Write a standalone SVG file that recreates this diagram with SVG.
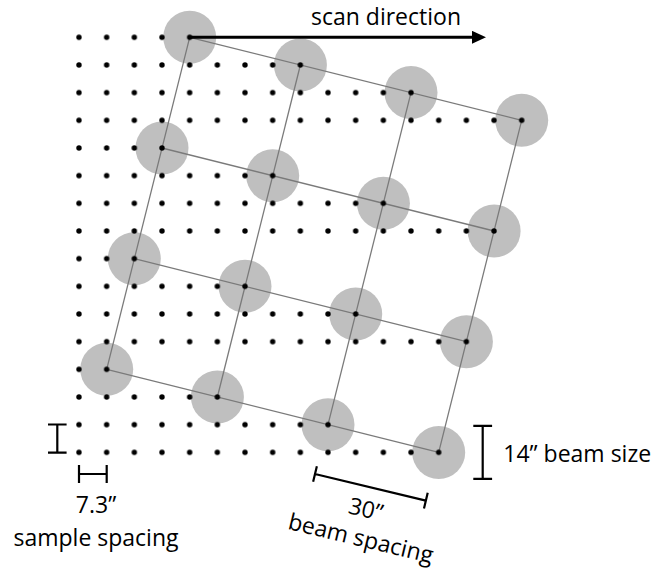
<svg xmlns="http://www.w3.org/2000/svg" width="658" height="572" viewBox="0 0 658 572">
<style>
.beam{fill:#bfbfbf;stroke:none}
.link{stroke:#7a7a7a;stroke-width:1.3;fill:none}
.br{stroke:#000;stroke-width:2.2;fill:none}
.lbl{font-family:"Open Sans","Liberation Sans",sans-serif;font-size:23px;fill:#000}
</style>
<defs>
<pattern id="dotpat" patternUnits="userSpaceOnUse" x="65.165" y="23.465" width="27.67" height="27.67">
<circle cx="13.835" cy="13.835" r="2.7" fill="#000"/>
</pattern>
<marker id="arrowhead" markerUnits="userSpaceOnUse" markerWidth="15" markerHeight="14" refX="0" refY="6.5" orient="auto">
<path d="M0,0 L14,6.5 L0,13 z" fill="#000"/>
</marker>
</defs>
<g id="beams">
<g id="beam-0-0"><circle class="beam" cx="189.7" cy="37.3" r="26.5"/></g>
<g id="beam-1-0"><circle class="beam" cx="300.4" cy="65.0" r="26.5"/></g>
<g id="beam-2-0"><circle class="beam" cx="411.0" cy="92.6" r="26.5"/></g>
<g id="beam-3-0"><circle class="beam" cx="521.7" cy="120.3" r="26.5"/></g>
<g id="beam-0-1"><circle class="beam" cx="162.0" cy="148.0" r="26.5"/></g>
<g id="beam-1-1"><circle class="beam" cx="272.7" cy="175.7" r="26.5"/></g>
<g id="beam-2-1"><circle class="beam" cx="383.4" cy="203.3" r="26.5"/></g>
<g id="beam-3-1"><circle class="beam" cx="494.1" cy="231.0" r="26.5"/></g>
<g id="beam-0-2"><circle class="beam" cx="134.3" cy="258.7" r="26.5"/></g>
<g id="beam-1-2"><circle class="beam" cx="245.0" cy="286.3" r="26.5"/></g>
<g id="beam-2-2"><circle class="beam" cx="355.7" cy="314.0" r="26.5"/></g>
<g id="beam-3-2"><circle class="beam" cx="466.4" cy="341.7" r="26.5"/></g>
<g id="beam-0-3"><circle class="beam" cx="106.7" cy="369.3" r="26.5"/></g>
<g id="beam-1-3"><circle class="beam" cx="217.4" cy="397.0" r="26.5"/></g>
<g id="beam-2-3"><circle class="beam" cx="328.0" cy="424.7" r="26.5"/></g>
<g id="beam-3-3"><circle class="beam" cx="438.7" cy="452.4" r="26.5"/></g>
</g>
<g id="connectors">
<line class="link" x1="189.7" y1="37.3" x2="521.7" y2="120.3"/>
<line class="link" x1="162.0" y1="148.0" x2="494.1" y2="231.0"/>
<line class="link" x1="134.3" y1="258.7" x2="466.4" y2="341.7"/>
<line class="link" x1="106.7" y1="369.3" x2="438.7" y2="452.4"/>
<line class="link" x1="189.7" y1="37.3" x2="106.7" y2="369.3"/>
<line class="link" x1="300.4" y1="65.0" x2="217.4" y2="397.0"/>
<line class="link" x1="411.0" y1="92.6" x2="328.0" y2="424.7"/>
<line class="link" x1="521.7" y1="120.3" x2="438.7" y2="452.4"/>
<line id="scan-arrow" x1="189.7" y1="37.3" x2="472" y2="37.3" stroke="#000" stroke-width="3" marker-end="url(#arrowhead)"/>
</g>
<g id="samples" fill="url(#dotpat)">
<rect x="65.165" y="23.465" width="138.35" height="27.67"/>
<rect x="65.165" y="51.135" width="249.03" height="27.67"/>
<rect x="65.165" y="78.805" width="359.71" height="27.67"/>
<rect x="65.165" y="106.475" width="470.39" height="27.67"/>
<rect x="65.165" y="134.145" width="110.68" height="27.67"/>
<rect x="65.165" y="161.815" width="221.36" height="27.67"/>
<rect x="65.165" y="189.485" width="332.04" height="27.67"/>
<rect x="65.165" y="217.155" width="442.72" height="27.67"/>
<rect x="65.165" y="244.825" width="83.01" height="27.67"/>
<rect x="65.165" y="272.495" width="193.69" height="27.67"/>
<rect x="65.165" y="300.165" width="304.37" height="27.67"/>
<rect x="65.165" y="327.835" width="415.05" height="27.67"/>
<rect x="65.165" y="355.505" width="55.34" height="27.67"/>
<rect x="65.165" y="383.175" width="166.02" height="27.67"/>
<rect x="65.165" y="410.845" width="276.7" height="27.67"/>
<rect x="65.165" y="438.515" width="387.38" height="27.67"/>
</g>
<g id="dimensions">
<path class="br" d="M57.3,424.5 V452.6 M48,424.5 H66.6 M48,452.6 H66.6"/>
<path class="br" d="M79,474 H106.7 M79,465 V483 M106.7,465 V483"/>
<path class="br" d="M482.7,425.9 V478.9 M473.3,425.9 H492.1 M473.3,478.9 H492.1"/>
<path class="br" transform="translate(315,474) rotate(13.5)" d="M0,0 H114 M0,-8 V8 M114,-8 V8"/>
</g>
<g id="labels">
<text class="lbl" x="311" y="25">scan direction</text>
<text class="lbl" x="503.3" y="461.7">14” beam size</text>
<text class="lbl" x="96" y="512.7" text-anchor="middle">7.3”</text>
<text class="lbl" x="96" y="545.5" text-anchor="middle">sample spacing</text>
<text class="lbl" text-anchor="middle" transform="translate(364,517) rotate(13.5)">30”</text>
<text class="lbl" text-anchor="middle" transform="translate(359,546) rotate(13.5)">beam spacing</text>
</g>
</svg>
